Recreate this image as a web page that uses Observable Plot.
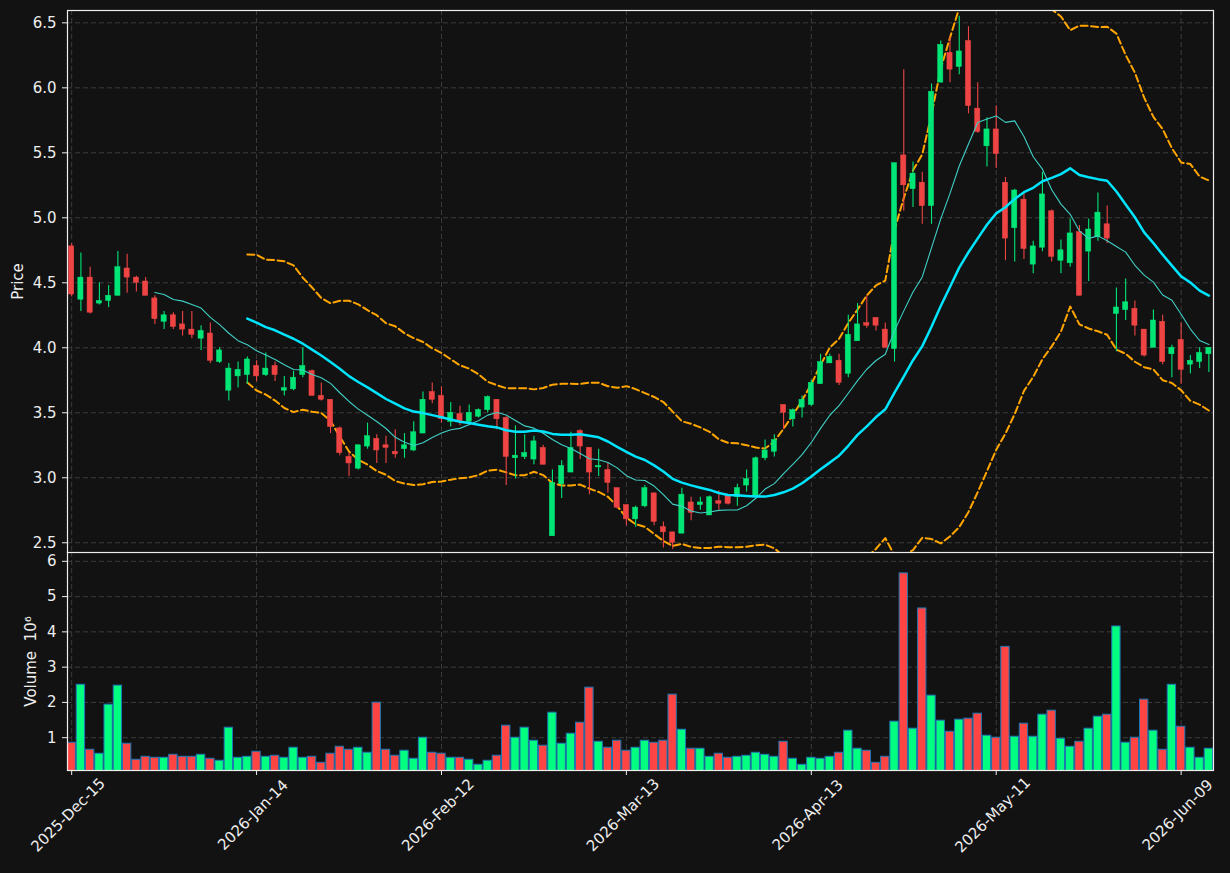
<!DOCTYPE html>
<html><head><meta charset="utf-8">
<script src="https://cdn.jsdelivr.net/npm/d3@7"></script>
<script src="https://cdn.jsdelivr.net/npm/@observablehq/plot@0.6"></script>
<style>
html,body{margin:0;padding:0;background:#121212;}
#chart{position:relative;width:1230px;height:873px;background:#121212;overflow:hidden;}
#chart svg{position:absolute;left:0;}
</style></head><body><div id="chart"></div>
<script>
const opens  = [4.78,4.37,4.54,4.34,4.36,4.40,4.61,4.54,4.51,4.38,4.20,4.25,4.18,4.14,4.07,4.11,3.89,3.67,3.78,3.79,
3.86,3.79,3.86,3.67,3.68,3.79,3.82,3.63,3.60,3.38,3.16,3.07,3.24,3.30,3.25,3.20,3.22,3.21,3.34,3.66,
3.63,3.43,3.49,3.43,3.47,3.52,3.60,3.46,3.15,3.16,3.14,3.23,2.55,2.95,3.04,3.36,3.23,3.08,3.06,2.92,
2.79,2.68,2.78,2.88,2.62,2.58,2.57,2.81,2.79,2.71,2.82,2.86,2.85,2.94,2.85,3.15,3.20,3.56,3.45,3.54,
3.56,3.72,3.88,3.90,3.80,4.05,4.19,4.23,4.14,3.99,5.48,5.22,5.27,5.09,6.04,6.27,6.16,6.36,5.84,5.55,
5.68,5.27,4.92,5.14,4.64,4.77,5.05,4.67,4.65,4.89,4.74,4.85,4.95,4.26,4.29,4.30,4.14,4.00,4.20,3.95,
4.06,3.87,3.89,3.95];
const highs  = [4.80,4.73,4.62,4.50,4.48,4.74,4.72,4.55,4.54,4.40,4.28,4.27,4.28,4.28,4.17,4.19,4.00,3.88,3.89,3.93,
3.90,3.96,3.89,3.78,3.82,4.00,3.83,3.73,3.60,3.39,3.19,3.25,3.42,3.33,3.32,3.37,3.34,3.43,3.66,3.73,
3.70,3.58,3.55,3.56,3.53,3.63,3.60,3.47,3.40,3.33,3.32,3.25,3.06,3.13,3.35,3.37,3.23,3.22,3.11,2.92,
2.79,2.78,2.94,2.88,2.66,2.58,2.92,2.85,2.85,2.86,2.90,2.87,2.95,3.06,3.16,3.29,3.33,3.56,3.53,3.63,
3.75,3.95,3.95,3.95,4.25,4.34,4.40,4.23,4.19,5.42,6.14,5.43,5.35,6.03,6.36,6.39,6.55,6.47,6.04,5.77,
5.86,5.31,5.22,5.19,4.82,5.35,5.06,4.83,4.99,4.94,4.99,5.19,5.09,4.46,4.53,4.36,4.14,4.29,4.25,4.02,
4.19,3.94,4.00,4.00];
const lows   = [4.39,4.28,4.26,4.33,4.31,4.40,4.42,4.43,4.40,4.18,4.14,4.14,4.09,4.07,3.98,3.88,3.88,3.59,3.69,3.72,
3.74,3.78,3.74,3.63,3.67,3.77,3.63,3.59,3.34,3.17,3.01,3.06,3.22,3.11,3.11,3.15,3.15,3.20,3.34,3.57,
3.42,3.39,3.40,3.40,3.46,3.50,3.37,2.94,2.99,3.14,3.10,3.10,2.55,2.84,3.04,3.14,2.87,3.01,2.88,2.76,
2.63,2.62,2.77,2.63,2.46,2.45,2.57,2.67,2.75,2.71,2.75,2.79,2.78,2.89,2.85,3.13,3.16,3.37,3.39,3.46,
3.55,3.72,3.88,3.71,3.77,4.05,4.15,4.13,4.00,3.89,5.05,5.08,4.95,4.95,6.04,6.04,6.10,5.80,5.65,5.39,
5.38,4.67,4.66,4.68,4.57,4.74,4.66,4.57,4.62,4.40,4.51,4.82,4.80,3.97,4.21,4.09,3.93,4.00,3.87,3.77,
3.72,3.80,3.84,3.81];
const closes = [4.41,4.54,4.27,4.36,4.40,4.62,4.54,4.50,4.40,4.22,4.25,4.16,4.14,4.10,4.13,3.90,3.98,3.84,3.83,3.91,
3.78,3.84,3.79,3.69,3.77,3.86,3.63,3.60,3.39,3.19,3.11,3.25,3.32,3.21,3.23,3.18,3.25,3.35,3.60,3.60,
3.45,3.50,3.43,3.50,3.52,3.62,3.45,3.16,3.17,3.19,3.28,3.10,2.96,3.09,3.23,3.24,3.04,3.09,2.96,2.77,
2.68,2.77,2.92,2.66,2.58,2.50,2.87,2.73,2.81,2.85,2.80,2.80,2.92,2.99,3.15,3.21,3.29,3.50,3.52,3.60,
3.73,3.89,3.93,3.73,4.10,4.18,4.17,4.17,4.00,5.42,5.25,5.34,5.09,5.97,6.33,6.14,6.28,5.86,5.66,5.68,
5.49,4.84,5.21,4.76,4.78,5.18,4.70,4.75,4.88,4.40,4.91,5.04,4.84,4.31,4.35,4.17,3.94,4.21,3.89,4.00,
3.83,3.90,3.96,4.00];
const volumes = [0.857,2.50,0.658,0.545,1.937,2.476,0.829,0.374,0.459,0.431,0.431,0.516,0.459,0.459,0.516,0.402,0.346,1.283,0.431,0.459,
0.601,0.459,0.488,0.431,0.715,0.431,0.459,0.289,0.545,0.743,0.658,0.715,0.573,1.993,0.658,0.488,0.630,0.402,0.999,0.573,
0.545,0.431,0.431,0.374,0.232,0.346,0.488,1.340,0.999,1.283,0.914,0.772,1.709,0.829,1.113,1.425,2.418,0.885,0.715,0.914,
0.630,0.715,0.914,0.857,0.914,2.22,1.226,0.687,0.687,0.459,0.545,0.431,0.459,0.488,0.573,0.516,0.459,0.885,0.402,0.232,
0.431,0.402,0.459,0.573,1.198,0.687,0.630,0.289,0.459,1.454,5.658,1.255,4.664,2.192,1.482,1.169,1.510,1.539,1.681,1.056,
0.999,3.575,1.027,1.397,1.027,1.652,1.766,0.970,0.743,0.885,1.255,1.596,1.652,4.153,0.857,0.999,2.079,1.198,0.658,2.50,
1.311,0.715,0.431,0.687];
const tickIndex  = [0, 20, 40, 60, 80, 100, 120];
const tickLabels = ["2025-Dec-15","2026-Jan-14","2026-Feb-12","2026-Mar-13","2026-Apr-13","2026-May-11","2026-Jun-09"];
const priceTicks = [2.5, 3.0, 3.5, 4.0, 4.5, 5.0, 5.5, 6.0, 6.5];
const volumeTicks = [1, 2, 3, 4, 5, 6];

const UP = "#00e676", DOWN = "#ef4444", VUP = "#00ff80", VDOWN = "#ff4444";
const data = opens.map((o, i) => ({i, open: o, high: highs[i], low: lows[i], close: closes[i], volume: volumes[i], up: closes[i] >= o}));

const meanN = n => v => v.length < n ? NaN : d3.mean(v);
const bandUp = v => v.length < 20 ? NaN : d3.mean(v) + 2 * d3.deviation(v);
const bandLo = v => v.length < 20 ? NaN : d3.mean(v) - 2 * d3.deviation(v);

const xDomain = [-0.45, 123.5];
const FONT = "'DejaVu Sans', sans-serif";
const FS = 15;
const grid = {stroke: "#3c3c3c", strokeOpacity: 1, strokeDasharray: "5,3", strokeWidth: 1};
const style = {background: "transparent", color: "#eeeeee", fontSize: FS + "px", fontFamily: FONT};

const price = Plot.plot({
  width: 1230, height: 553,
  marginLeft: 67, marginRight: 17, marginTop: 10, marginBottom: 1,
  style,
  x: {domain: xDomain, axis: null},
  y: {domain: [2.425, 6.595], axis: null},
  color: {type: "identity"},
  marks: [
    Plot.gridY(priceTicks, grid),
    Plot.gridX(tickIndex, grid),
    Plot.lineY(data, Plot.windowY({k: 20, anchor: "end", reduce: bandUp}, {x: "i", y: "close", stroke: "#ffa500", strokeWidth: 2, strokeDasharray: "7,3.5", clip: true})),
    Plot.lineY(data, Plot.windowY({k: 20, anchor: "end", reduce: bandLo}, {x: "i", y: "close", stroke: "#ffa500", strokeWidth: 2, strokeDasharray: "7,3.5", clip: true})),
    Plot.ruleX(data, {x: "i", y1: "low", y2: "high", stroke: d => d.up ? UP : DOWN, strokeWidth: 1.1, clip: true}),
    Plot.rect(data, {x1: d => d.i - 0.28, x2: d => d.i + 0.28, y1: "open", y2: "close", fill: d => d.up ? UP : DOWN, stroke: d => d.up ? UP : DOWN, strokeWidth: 0.5, clip: true}),
    Plot.lineY(data, Plot.windowY({k: 10, anchor: "end", reduce: meanN(10)}, {x: "i", y: "close", stroke: "#3fd0c6", strokeWidth: 1.1, clip: true})),
    Plot.lineY(data, Plot.windowY({k: 20, anchor: "end", reduce: meanN(20)}, {x: "i", y: "close", stroke: "#00e5ff", strokeWidth: 2.5, clip: true})),
    Plot.axisY(priceTicks, {tickFormat: d3.format(".1f"), tickSize: 5, tickPadding: 6, label: null, fontSize: FS}),
    Plot.text(["Price"], {text: d => d, frameAnchor: "left", textAnchor: "middle", dx: -49, rotate: -90, fill: "#eeeeee", fontSize: FS}),
    Plot.frame({stroke: "#eeeeee", strokeWidth: 1.2})
  ]
});
price.style.top = "0px";

const volume = Plot.plot({
  width: 1230, height: 321,
  marginLeft: 67, marginRight: 17, marginTop: 0, marginBottom: 103,
  style,
  x: {domain: xDomain, axis: null},
  y: {domain: [0.07, 6.25], axis: null},
  color: {type: "identity"},
  marks: [
    Plot.gridY(volumeTicks, grid),
    Plot.gridX(tickIndex, grid),
    Plot.rectY(data, {x1: d => d.i - 0.45, x2: d => d.i + 0.45, y: "volume", fill: d => d.up ? VUP : VDOWN, stroke: "#1f77b4", strokeWidth: 1, clip: true}),
    Plot.axisY(volumeTicks, {tickFormat: d => String(d), tickSize: 5, tickPadding: 6, label: null, fontSize: FS}),
    Plot.axisX(tickIndex, {tickFormat: () => "", tickSize: 5, label: null}),
    Plot.text(tickIndex, {x: d => d, text: (d, j) => tickLabels[j], frameAnchor: "bottom", dy: 48, rotate: -45, textAnchor: "middle", fill: "#eeeeee", fontSize: FS}),
    Plot.text(["Volume  10\u2076"], {text: d => d, frameAnchor: "left", textAnchor: "middle", dx: -36, rotate: -90, fill: "#eeeeee", fontSize: FS}),
    Plot.frame({stroke: "#eeeeee", strokeWidth: 1.2})
  ]
});
volume.style.top = "552px";

const chart = document.getElementById("chart");
chart.appendChild(price);
chart.appendChild(volume);
</script></body></html>
